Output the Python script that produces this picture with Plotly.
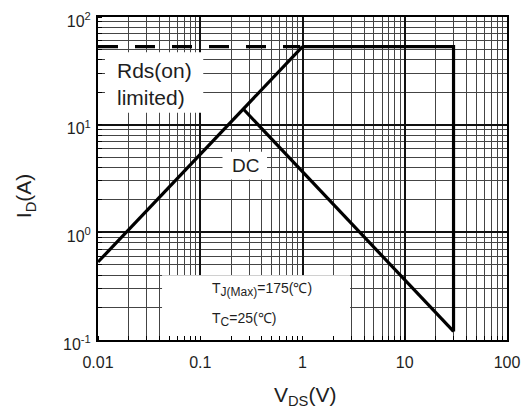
import plotly.graph_objects as go
import numpy as np

# Data
rds_v = [0.01, 1.0]
rds_i = [0.53, 53.0]
dash_v = [0.01, 0.95]
dash_i = [53.0, 53.0]
pkg_v = [1.0, 30.0, 30.0]
pkg_i = [53.0, 53.0, 0.12]
dc_v = [0.265, 30.0]
dc_i = [13.9, 0.12]

x_ticks = [0.01, 0.1, 1, 10, 100]
x_ticktext = ["0.01", "0.1", "1", "10", "100"]
y_ticks = [0.1, 1, 10, 100]
y_ticktext = ["10<sup>-1</sup>", "10<sup>0</sup>", "10<sup>1</sup>", "10<sup>2</sup>"]

W, H = 529, 416
# page body adds an 8px offset; margins compensate for it
L, R, T, B = 90, 30, 9, 84
FONT = "Liberation Sans, Arial, sans-serif"
TXT = "#1e1e1e"

fig = go.Figure()
line_style = dict(color="black", width=3.2)
fig.add_trace(go.Scatter(x=rds_v, y=rds_i, mode="lines", line=line_style, hoverinfo="skip"))
fig.add_trace(go.Scatter(x=dash_v, y=dash_i, mode="lines",
                         line=dict(color="black", width=3.2, dash="20px,17px"), hoverinfo="skip"))
fig.add_trace(go.Scatter(x=pkg_v, y=pkg_i, mode="lines", line=line_style, hoverinfo="skip"))
fig.add_trace(go.Scatter(x=dc_v, y=dc_i, mode="lines", line=line_style, hoverinfo="skip"))

# white label boxes covering the grid
boxes = [
    (0.0117, 0.107, 12.9, 47.0),
    (0.165, 0.45, 3.1, 5.6),
    (0.0423, 2.92, 0.1, 0.40),
]
for x0, x1, y0, y1 in boxes:
    fig.add_shape(type="rect", xref="x", yref="y", x0=x0, x1=x1, y0=y0, y1=y1,
                  fillcolor="white", line=dict(width=0), layer="between")

fig.add_annotation(x=np.log10(0.0145), y=np.log10(24), xanchor="left", text="Rds(on)<br>limited)",
                   showarrow=False, align="left", font=dict(family=FONT, size=21, color=TXT))
fig.add_annotation(x=np.log10(0.28), y=np.log10(4.2), text="DC",
                   showarrow=False, font=dict(family=FONT, size=19, color=TXT))
SUB = "<sub><span style='font-size:12px'>%s</span></sub>"
fig.add_annotation(x=-0.90, y=-0.53, xanchor="left",
                   text="T" + SUB % "J(Max)" + "=175(℃)",
                   showarrow=False, font=dict(family=FONT, size=14, color=TXT))
fig.add_annotation(x=-0.90, y=-0.81, xanchor="left",
                   text="T" + SUB % "C" + "=25(℃)",
                   showarrow=False, font=dict(family=FONT, size=14, color=TXT))

# axis titles
fig.add_annotation(xref="paper", yref="paper", x=-0.178, y=0.446, textangle=-90,
                   xanchor="center", yanchor="middle",
                   text="I<sub>D</sub>(A)", showarrow=False,
                   font=dict(family=FONT, size=21, color=TXT))
fig.add_annotation(xref="paper", yref="paper", x=0.506, y=-0.173,
                   xanchor="center", yanchor="middle",
                   text="V<sub>DS</sub>(V)", showarrow=False,
                   font=dict(family=FONT, size=21, color=TXT))

axis_common = dict(
    type="log", showline=True, linecolor="black", linewidth=2, mirror=True,
    showgrid=True, gridcolor="#111", gridwidth=1.6,
    ticks="", tickfont=dict(family=FONT, size=16, color=TXT),
    zeroline=False, automargin=False, ticklabeloverflow="allow",
    minor=dict(showgrid=True, gridcolor="#444", gridwidth=1, dtick="D1",
               ticks="inside", ticklen=4, tickcolor="black"),
)
fig.update_xaxes(range=[-2, 2], tickvals=x_ticks, ticktext=x_ticktext,
                 ticklabelstandoff=7, **axis_common)
fig.update_yaxes(range=[-1, 2], tickvals=y_ticks, ticktext=y_ticktext,
                 ticklabelstandoff=2, ticklabelshift=4, **axis_common)

fig.update_layout(width=W, height=H, margin=dict(l=L, r=R, t=T, b=B),
                  plot_bgcolor="white", paper_bgcolor="white", showlegend=False)
fig.write_html("out.html")
